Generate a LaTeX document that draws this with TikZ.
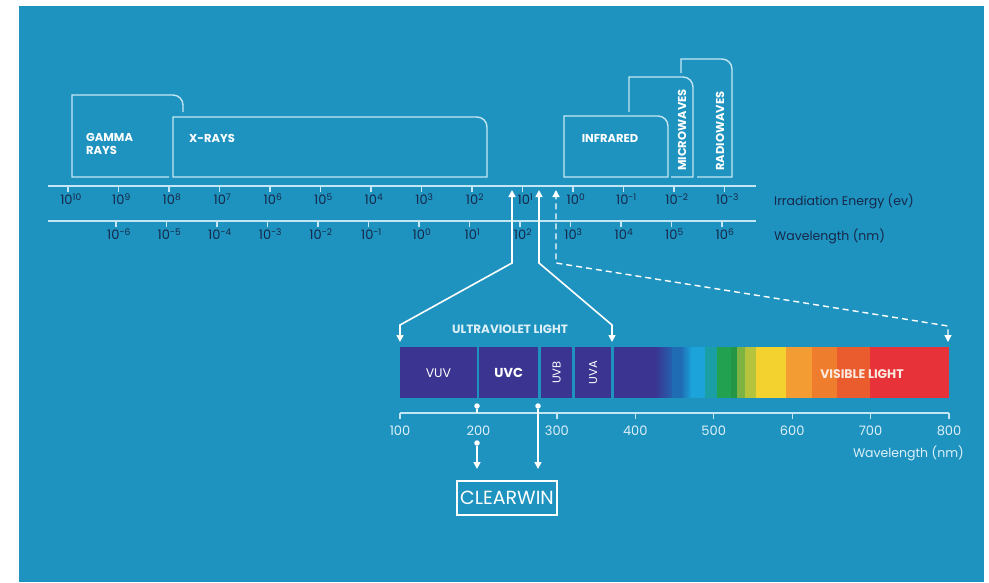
\documentclass[tikz,border=0pt]{standalone}
\usepackage{fontspec}
\setmainfont{Poppins}
\usepackage{graphicx}
\usepackage{tikz}
\usetikzlibrary{positioning, shapes.misc, arrows.meta}
\definecolor{bgblue}{HTML}{1E93BF}
\definecolor{rule}{HTML}{C4E6F2}
\definecolor{ink}{HTML}{17284A}
\definecolor{uvblue}{HTML}{3B3491}
\definecolor{pale}{HTML}{DDF0F8}
\definecolor{warmwhite}{HTML}{FBE9DF}
\definecolor{sp1}{RGB}{37,96,174}
\definecolor{sp2}{RGB}{31,108,180}
\definecolor{sp3}{RGB}{27,160,216}
\definecolor{sp4}{RGB}{27,163,218}
\definecolor{sp5}{RGB}{26,159,166}
\definecolor{sp6}{RGB}{34,161,80}
\definecolor{sp7}{RGB}{35,150,69}
\definecolor{sp8}{RGB}{124,179,66}
\definecolor{sp9}{RGB}{181,196,60}
\definecolor{sp10}{RGB}{243,210,47}
\definecolor{sp11}{RGB}{243,156,52}
\definecolor{sp12}{RGB}{238,126,46}
\definecolor{sp13}{RGB}{234,91,46}
\definecolor{sp14}{RGB}{231,50,58}
\tikzstyle{bandbox} = [draw=rule, line width=1.4pt]
\tikzstyle{bandtxt} = [text=white, font=\bfseries\fontsize{11.5}{12.5}\selectfont, align=left, inner sep=0pt]
\tikzstyle{tick} = [draw=rule, line width=1.3pt]
\tikzstyle{ticktxt} = [text=ink, font=\fontsize{13}{14}\selectfont, inner sep=0pt]
\tikzstyle{axistxt} = [text=ink, font=\fontsize{12.5}{14}\selectfont, anchor=west, inner sep=0pt]
\tikzstyle{arrow} = [white, line width=1.6pt, >={Triangle[length=7pt,width=7pt]}]
\tikzstyle{pin} = [circle, fill=white, inner sep=0pt, minimum size=5.5pt]
\tikzstyle{uvseg} = [fill=uvblue, anchor=north west, minimum height=51pt, inner sep=0pt, text=white, font=\fontsize{12.5}{13}\selectfont]
\tikzstyle{nmtxt} = [text=pale, font=\fontsize{13}{14}\selectfont, inner sep=0pt]

\begin{document}
\begin{tikzpicture}[x=1pt, y=-1pt]
\useasboundingbox (0,0) rectangle (989,582);
\fill[white] (0,0) rectangle (989,582);
\fill[bgblue] (19,6) rectangle (984,582);

\draw[bandbox] (169,177) -- (72,177) -- (72,95) -- (173,95) .. controls (178.5,95) and (183,99.5) .. (183,105) -- (183,112);
\draw[bandbox] (173,177) -- (173,117) -- (477,117) .. controls (482.5,117) and (487,121.5) .. (487,127) -- (487,177) -- cycle;
\draw[bandbox] (564,177) -- (564,116) -- (658,116) .. controls (663.5,116) and (668,120.5) .. (668,126) -- (668,177) -- cycle;
\draw[bandbox] (629,112) -- (629,77) -- (683,77) .. controls (688.5,77) and (693,81.5) .. (693,87) -- (693,177) -- (671,177);
\draw[bandbox] (681,73) -- (681,59) -- (722,59) .. controls (727.5,59) and (732,63.5) .. (732,69) -- (732,177) -- (697,177);

\node (gamma) [bandtxt, anchor=west] at (86,144) {GAMMA\\RAYS};
\node (xrays) [bandtxt, anchor=west] at (189,138) {X-RAYS};
\node (infrared) [bandtxt] at (610,138) {INFRARED};
\node (micro) [bandtxt, rotate=90] at (682,130) {MICROWAVES};
\node (radio) [bandtxt, rotate=90] at (720,131) {RADIOWAVES};

\coordinate (eL) at (48,186);
\coordinate (eR) at (756,186);
\coordinate (wL) at (48,221);
\coordinate (wR) at (756,221);
\draw[tick] (eL) -- (eR);
\draw[tick] (wL) -- (wR);
\foreach \e [count=\i from 0] in {10,9,...,-3} {
  \draw[tick] (68+50.5*\i,186) -- ++(0,6);
  \node[ticktxt] at (71+50.5*\i,199) {10\textsuperscript{\e}};
}
\foreach \w [count=\i from 0] in {-6,-5,...,6} {
  \draw[tick] (116+50.5*\i,221) -- ++(0,6);
  \node[ticktxt] at (119+50.5*\i,234) {10\textsuperscript{\w}};
}
\node (elabel) [axistxt] at (774,201) {Irradiation Energy (ev)};
\node (wlabel) [axistxt] at (774,236) {Wavelength (nm)};

\node (vuv) [uvseg, minimum width=76.5pt] at (400,347) {VUV};
\node (uvc) [uvseg, minimum width=59pt, font=\bfseries\fontsize{13}{14}\selectfont] at (479,347) {UVC};
\node (uvb) [uvseg, minimum width=31pt, font=\fontsize{11.5}{12}\selectfont] at (541,347) {\rotatebox{90}{UVB}};
\node (uva) [uvseg, minimum width=36pt, font=\fontsize{11.5}{12}\selectfont] at (575,347) {\rotatebox{90}{UVA}};

\fill[uvblue] (614,347) rectangle (655,398);
\foreach \s in {0,...,16}
  \fill[sp1!\the\numexpr\s*6\relax!uvblue] (655+\s,347) rectangle (656.2+\s,398);
\fill[sp2] (672,347) rectangle (681,398);
\foreach \s in {0,...,9}
  \fill[sp3!\the\numexpr\s*10\relax!sp2] (681+\s,347) rectangle (682.2+\s,398);
\fill[sp4] (691,347) rectangle (705,398);
\fill[sp5] (705,347) rectangle (717,398);
\fill[sp6] (717,347) rectangle (731,398);
\fill[sp7] (731,347) rectangle (737,398);
\fill[sp8] (737,347) rectangle (745,398);
\fill[sp9] (745,347) rectangle (756,398);
\fill[sp10] (756,347) rectangle (786,398);
\fill[sp11] (786,347) rectangle (812,398);
\fill[sp12] (812,347) rectangle (837,398);
\fill[sp13] (837,347) rectangle (870,398);
\fill[sp14] (870,347) rectangle (949,398);
\node (visible) [bandtxt, text=warmwhite, font=\bfseries\fontsize{12.5}{13}\selectfont] at (862,374) {VISIBLE LIGHT};
\node (uvlight) [bandtxt, text=pale, font=\bfseries\fontsize{12}{13}\selectfont] at (510,329) {ULTRAVIOLET LIGHT};

\coordinate (uvL0) at (512,190);
\coordinate (uvL1) at (512,263);
\coordinate (uvL2) at (400,325);
\coordinate (uvL3) at (400,342);
\coordinate (uvR0) at (539,190);
\coordinate (uvR1) at (539,263);
\coordinate (uvR2) at (612,325);
\coordinate (uvR3) at (612,342);
\coordinate (visT0) at (556,190);
\coordinate (visT1) at (556,263);
\coordinate (visT2) at (948,326);
\coordinate (visT3) at (948,342);
\draw[arrow, <->] (uvL3) -- (uvL2) -- (uvL1) -- (uvL0);
\draw[arrow, <->] (uvR3) -- (uvR2) -- (uvR1) -- (uvR0);
\draw[arrow, <->, line width=1.4pt, dash pattern=on 6pt off 4pt] (visT3) -- (visT2) -- (visT1) -- (visT0);

\coordinate (nm100) at (400,413);
\coordinate (nm800) at (949,413);
\draw[tick] (nm100) -- (nm800);
\foreach \n in {100,300,400,500,600,700,800}
  \draw[tick] (400+0.7843*\n-78.43,413) -- ++(0,6);
\foreach \n in {100,200,...,800}
  \node[nmtxt] at (400+0.7843*\n-78.43,431) {\n};
\node (nmlabel) [nmtxt, anchor=east, font=\fontsize{12.5}{14}\selectfont] at (964,453) {Wavelength (nm)};

\node (clearwin) [draw=white, line width=2pt, minimum width=100pt, minimum height=34pt, text=white, font=\fontsize{19}{20}\selectfont] at (507,498) {CLEARWIN};
\node (pin200) [pin] at (477,406) {};
\node (pinA) [pin] at (538,406) {};
\node (pinB) [pin] at (477,443) {};
\coordinate (tick200) at (477,413);
\coordinate (cwA) at (538,469);
\coordinate (cwB) at (477,469);
\draw[white, line width=1.6pt] (pin200) -- (tick200);
\draw[arrow, ->] (pinA) -- (cwA);
\draw[arrow, ->] (pinB) -- (cwB);
\end{tikzpicture}
\end{document}
